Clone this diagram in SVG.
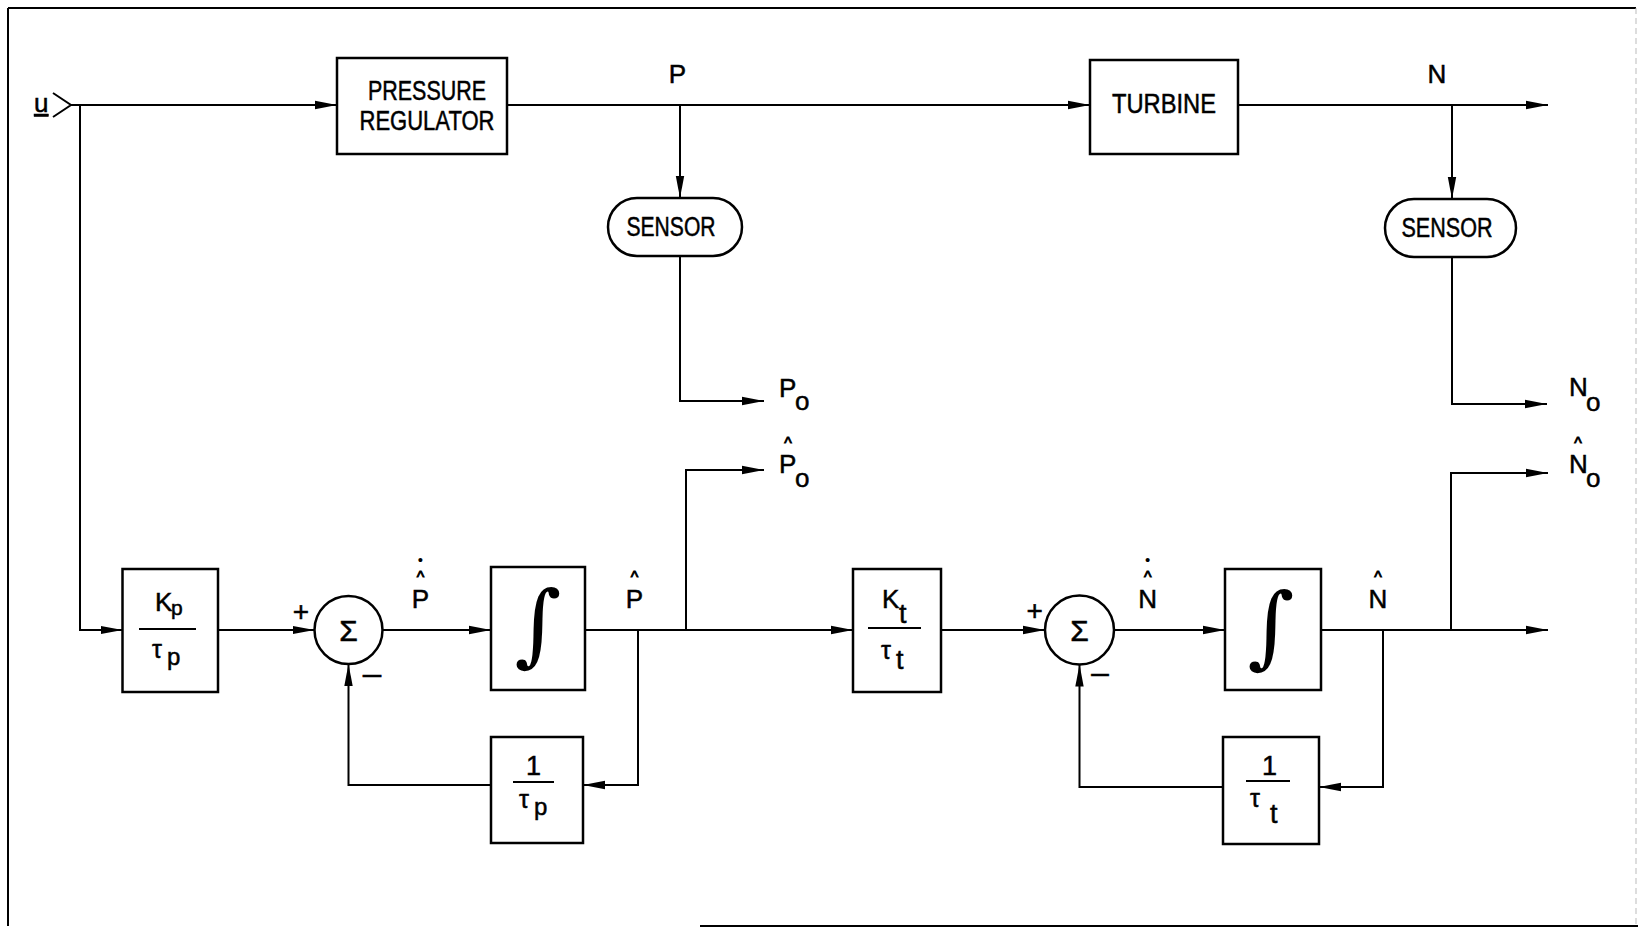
<svg xmlns="http://www.w3.org/2000/svg" width="1638" height="928" viewBox="0 0 1638 928">
<defs>
<marker id="ar" markerUnits="userSpaceOnUse" markerWidth="22" markerHeight="10" refX="22" refY="5" orient="auto"><path d="M0,0.8 L22,5 L0,9.2 z" fill="#000"/></marker>
<style>
.box{fill:#fff;stroke:#000;stroke-width:2.5}
.ln{fill:none;stroke:#000;stroke-width:2}
.ar{marker-end:url(#ar)}
.t{font-family:"Liberation Sans",Arial,sans-serif;font-size:26px;fill:#000;stroke:#000;stroke-width:0.5}
.lbl{font-family:"Liberation Sans",Arial,sans-serif;font-size:27px;fill:#000;stroke:#000;stroke-width:0.5;text-anchor:middle}
.c{text-anchor:middle}
.hat{font-family:"Liberation Sans",Arial,sans-serif;font-size:16px;fill:#000;stroke:#000;stroke-width:0.9;text-anchor:middle}
.dot{font-family:"Liberation Sans",Arial,sans-serif;font-size:15px;fill:#000;text-anchor:middle}
.int{font-family:"DejaVu Serif",serif;font-size:90px;font-style:italic;fill:#000;text-anchor:middle}
</style>
</defs>
<rect width="1638" height="928" fill="#fff"/>
<g id="border" fill="none" stroke="#000">
<path d="M8,8 H1636 M8,8 V926" stroke-width="2"/>
<path d="M700,926 H1638" stroke-width="2"/>
<path d="M1636,8 V926" stroke="#bbb" stroke-width="1" stroke-dasharray="6 4"/>
</g>
<g id="connectors" class="ln">
<path class="ar" d="M71,105 H337"/>
<path class="ar" d="M80,105 V630 H122.5"/>
<path class="ar" d="M507,105 H1090"/>
<path class="ar" d="M680,105 V198"/>
<path class="ar" d="M680,256 V401 H764"/>
<path class="ar" d="M1238,105 H1548"/>
<path class="ar" d="M1452,105 V199"/>
<path class="ar" d="M1452,257 V404 H1547"/>
<path class="ar" d="M218,630 H314.5"/>
<path class="ar" d="M382.5,630 H491"/>
<path class="ar" d="M585,630 H853"/>
<path class="ar" d="M638,630 V785 H583"/>
<path class="ar" d="M491,785 H348.5 V664"/>
<path class="ar" d="M686,630 V470 H764"/>
<path class="ar" d="M941,630 H1045"/>
<path class="ar" d="M1114,630 H1225"/>
<path class="ar" d="M1321,630 H1548"/>
<path class="ar" d="M1383,630 V787 H1319"/>
<path class="ar" d="M1223,787 H1079.5 V664.5"/>
<path class="ar" d="M1451,630 V473 H1548"/>
</g>
<g id="input-u">
<text class="t" x="34" y="112" text-decoration="underline">u</text>
<polyline class="ln" points="53,93 71,105 53,117"/>
</g>
<g id="pressure-regulator">
<rect class="box" x="337" y="58" width="170" height="96"/>
<text class="lbl" x="427" y="100" textLength="118" lengthAdjust="spacingAndGlyphs">PRESSURE</text>
<text class="lbl" x="427" y="130" textLength="135" lengthAdjust="spacingAndGlyphs">REGULATOR</text>
</g>
<g id="turbine">
<rect class="box" x="1090" y="60" width="148" height="94"/>
<text class="lbl" x="1164" y="113" textLength="104" lengthAdjust="spacingAndGlyphs">TURBINE</text>
</g>
<g id="sensor-p">
<rect class="box" x="608" y="198" width="134" height="58" rx="29"/>
<text class="lbl" x="671" y="236" textLength="89" lengthAdjust="spacingAndGlyphs">SENSOR</text>
</g>
<g id="sensor-n">
<rect class="box" x="1385" y="199" width="131" height="58" rx="29"/>
<text class="lbl" x="1447" y="237" textLength="91" lengthAdjust="spacingAndGlyphs">SENSOR</text>
</g>
<g id="label-P"><text class="t c" x="677.5" y="83">P</text></g>
<g id="label-N"><text class="t c" x="1437" y="83">N</text></g>
<g id="label-Po"><text class="t" x="779" y="397">P</text><text class="t" x="795" y="410">o</text></g>
<g id="label-No"><text class="t" x="1569" y="396">N</text><text class="t" x="1586" y="411">o</text></g>
<g id="label-Pho"><text class="hat" x="788" y="449">^</text><text class="t" x="779" y="473">P</text><text class="t" x="795" y="487">o</text></g>
<g id="label-Nho"><text class="hat" x="1578" y="449">^</text><text class="t" x="1569" y="473">N</text><text class="t" x="1586" y="487">o</text></g>
<g id="gain-kp">
<rect class="box" x="122.5" y="569" width="95.5" height="123"/>
<text class="t" x="155" y="611">K</text><text class="t" x="171" y="615" style="font-size:21px">p</text>
<line class="ln" x1="139" y1="629" x2="196" y2="629"/>
<text class="t" x="152" y="658" style="font-size:25px">τ</text><text class="t" x="167" y="665" style="font-size:24px">p</text>
</g>
<g id="sum-1">
<circle class="box" cx="348.5" cy="630" r="34"/>
<text class="t c" x="348.5" y="641" style="font-size:30px">Σ</text>
<text class="t c" x="301" y="621" style="font-size:28px">+</text>
<text class="t c" x="372" y="685" style="font-size:28px" textLength="22" lengthAdjust="spacingAndGlyphs">−</text>
</g>
<g id="label-Phdot"><text class="dot" x="420.5" y="565">•</text><text class="hat" x="420.5" y="583">^</text><text class="t c" x="420.5" y="608">P</text></g>
<g id="integrator-p">
<rect class="box" x="491" y="567" width="94" height="123"/>
<text class="int" x="538" y="655">∫</text>
</g>
<g id="label-Ph"><text class="hat" x="634.5" y="583">^</text><text class="t c" x="634.5" y="608">P</text></g>
<g id="gain-1-taup">
<rect class="box" x="491" y="737" width="92" height="106"/>
<text class="t c" x="533.5" y="775" style="font-size:27px">1</text>
<line class="ln" x1="513" y1="782" x2="554" y2="782"/>
<text class="t" x="519" y="808" style="font-size:25px">τ</text><text class="t" x="534" y="815" style="font-size:24px">p</text>
</g>
<g id="gain-kt">
<rect class="box" x="853" y="569" width="88" height="123"/>
<text class="t" x="882" y="608">K</text><text class="t" x="899" y="623" style="font-size:27px">t</text>
<line class="ln" x1="868" y1="628" x2="921" y2="628"/>
<text class="t" x="881" y="659" style="font-size:25px">τ</text><text class="t" x="896" y="669" style="font-size:27px">t</text>
</g>
<g id="sum-2">
<circle class="box" cx="1079.5" cy="630" r="34.5"/>
<text class="t c" x="1079.5" y="641" style="font-size:30px">Σ</text>
<text class="t c" x="1034.6" y="620" style="font-size:28px">+</text>
<text class="t c" x="1100" y="684" style="font-size:28px" textLength="21" lengthAdjust="spacingAndGlyphs">−</text>
</g>
<g id="label-Nhdot"><text class="dot" x="1147.7" y="565">•</text><text class="hat" x="1147.7" y="583">^</text><text class="t c" x="1147.7" y="608">N</text></g>
<g id="integrator-n">
<rect class="box" x="1225" y="569" width="96" height="121"/>
<text class="int" x="1271" y="657">∫</text>
</g>
<g id="label-Nh"><text class="hat" x="1378" y="583">^</text><text class="t c" x="1378" y="608">N</text></g>
<g id="gain-1-taut">
<rect class="box" x="1223" y="737" width="96" height="107"/>
<text class="t c" x="1269.5" y="775" style="font-size:27px">1</text>
<line class="ln" x1="1246" y1="781" x2="1290" y2="781"/>
<text class="t" x="1250" y="807" style="font-size:25px">τ</text><text class="t" x="1270" y="823" style="font-size:27px">t</text>
</g>
</svg>
